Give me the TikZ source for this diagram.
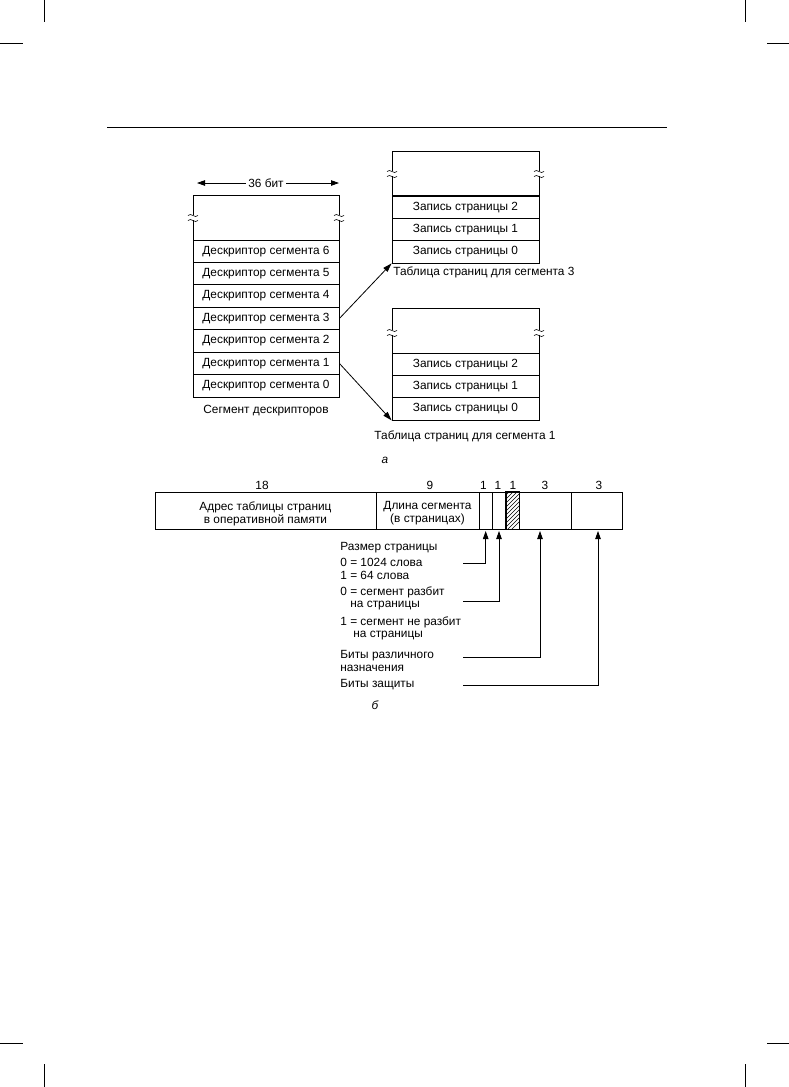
\documentclass[tikz,border=0pt]{standalone}
\usepackage{fontspec}
\setmainfont{Liberation Sans}
\usetikzlibrary{arrows.meta}
\begin{document}
\begin{tikzpicture}[x=1bp,y=-1bp,line width=0.8bp,
  every node/.style={font=\fontsize{11.9}{13}\selectfont,inner sep=0pt},
  drow/.style={draw,minimum width=146bp,minimum height=22.43bp},
  prow/.style={draw,minimum width=147bp,minimum height=22.33bp},
  fld/.style={draw,minimum height=37bp},
  arr/.style={-{Triangle[length=8bp,width=5.5bp]}},
  darr/.style={-{Triangle[length=9bp,width=5.5bp]}},
  crop/.style={line width=0.6bp},
  brkmark/.pic={\draw[line width=0.6bp] (-5,-1.5) .. controls (-2,-5) and (2,2) .. (5,-1.5);
                \draw[line width=0.6bp] (-5,3.5) .. controls (-2,0) and (2,7) .. (5,3.5);}]
\useasboundingbox (0,0) rectangle (789,1087);
% crop marks and rule
\draw[crop] (44,0) -- (44,22); \draw[crop] (0,43) -- (23,43);
\draw[crop] (745,0) -- (745,22); \draw[crop] (767,43) -- (789,43);
\draw[crop] (44,1064) -- (44,1087); \draw[crop] (0,1043) -- (23,1043);
\draw[crop] (745,1064) -- (745,1087); \draw[crop] (767,1043) -- (789,1043);
\draw[line width=0.9bp] (107,127) -- (667,127);

% ---- descriptor segment
\coordinate (w36) at (197,183);
\coordinate (e36) at (339,183);
\node (b36) at (266,183) {36 бит};
\draw[arr] (b36.west) ++(-2,0) -- (w36);
\draw[arr] (b36.east) ++(2,0) -- (e36);
\draw (193,240) -- (193,219.5) (193,214.5) -- (193,195) -- (339,195) -- (339,214.5) (339,219.5) -- (339,240);
\pic at (193,217) {brkmark};
\pic at (339,217) {brkmark};
\node[drow] (d6) at (266,251.2) {Дескриптор сегмента 6};
\node[drow] (d5) at (266,273.6) {Дескриптор сегмента 5};
\node[drow] (d4) at (266,296.1) {Дескриптор сегмента 4};
\node[drow] (d3) at (266,318.5) {Дескриптор сегмента 3};
\node[drow] (d2) at (266,340.9) {Дескриптор сегмента 2};
\node[drow] (d1) at (266,363.4) {Дескриптор сегмента 1};
\node[drow] (d0) at (266,385.8) {Дескриптор сегмента 0};
\node (dlab) at (266,410.5) {Сегмент дескрипторов};

% ---- page table for segment 3
\draw (392,196) -- (392,175.5) (392,170.5) -- (392,151) -- (539,151) -- (539,170.5) (539,175.5) -- (539,196);
\pic at (392,173) {brkmark};
\pic at (539,173) {brkmark};
\node[prow] (u2) at (465.5,207.2) {Запись страницы 2};
\node[prow] (u1) at (465.5,229.5) {Запись страницы 1};
\node[prow] (u0) at (465.5,251.8) {Запись страницы 0};
\draw[line width=2bp] (392,196) -- (539,196);
\node[anchor=west] (ulab) at (393,272) {Таблица страниц для сегмента 3};

% ---- page table for segment 1
\draw (392,353) -- (392,334.5) (392,329.5) -- (392,308) -- (539,308) -- (539,329.5) (539,334.5) -- (539,353);
\pic at (392,332) {brkmark};
\pic at (539,332) {brkmark};
\node[prow] (l2) at (465.5,364.2) {Запись страницы 2};
\node[prow] (l1) at (465.5,386.5) {Запись страницы 1};
\node[prow] (l0) at (465.5,408.8) {Запись страницы 0};
\node (llab) at (465,436) {Таблица страниц для сегмента 1};

\draw[darr] (d3.east) -- (u0.south west);
\draw[darr] (d1.east) -- (l0.south west);

\node (capa) at (385,460) {\itshape а};

% ---- descriptor format
\node[fld,minimum width=221bp] (f1) at (265.5,510.5) {};
\node[fld,minimum width=103bp] (f2) at (427.5,510.5) {};
\node[fld,minimum width=13bp] (f3) at (485.5,510.5) {};
\node[fld,minimum width=14bp] (f4) at (499,510.5) {};
\node[fld,minimum width=13bp] (f5) at (512.5,510.5) {};
\node[fld,minimum width=52bp] (f6) at (545,510.5) {};
\node[fld,minimum width=51bp] (f7) at (596.5,510.5) {};
\begin{scope}
  \clip (f5.south west) rectangle (f5.north east);
  \foreach \i in {0,...,14} \draw[line width=0.5bp] (496,545-\i*4) -- ++(40,-40);
\end{scope}
\draw (f5.south west) rectangle (f5.north east);
\node[align=center] (f1t) at (265.5,513.5) {Адрес таблицы страниц\\в оперативной памяти};
\node[align=center] (f2t) at (427.5,513.5) {Длина сегмента\\(в страницах)};
\node (n1) at (262,485) {18};
\node (n2) at (430,485) {9};
\node (n3) at (483.5,485) {1};
\node (n4) at (498,485) {1};
\node (n5) at (513,485) {1};
\node (n6) at (545,485) {3};
\node (n7) at (599,485) {3};

\node[anchor=west] (t1) at (340,548) {Размер страницы};
\node[anchor=west] (t2) at (340,562) {0 = 1024 слова};
\node[anchor=west] (t3) at (340,575) {1 = 64 слова};
\node[anchor=west] (t4) at (340,592) {0 = сегмент разбит};
\node[anchor=west] (t5) at (350,606) {на страницы};
\node[anchor=west] (t6) at (340,622) {1 = сегмент не разбит};
\node[anchor=west] (t7) at (353,636) {на страницы};
\node[anchor=west] (t8) at (340,656) {Биты различного};
\node[anchor=west] (t9) at (340,668) {назначения};
\node[anchor=west] (t10) at (340,685) {Биты защиты};

\coordinate (s1) at (463,563);
\coordinate (s2) at (463,601);
\coordinate (s3) at (463,657);
\coordinate (s4) at (463,685);
\coordinate (p1) at (485.7,531);
\coordinate (p2) at (499,531);
\coordinate (p3) at (540,531);
\coordinate (p4) at (598,531);
\draw[arr] (s1) -| (p1);
\draw[arr] (s2) -| (p2);
\draw[arr] (s3) -| (p3);
\draw[arr] (s4) -| (p4);

\node (capb) at (375,705) {\itshape б};
\end{tikzpicture}
\end{document}
